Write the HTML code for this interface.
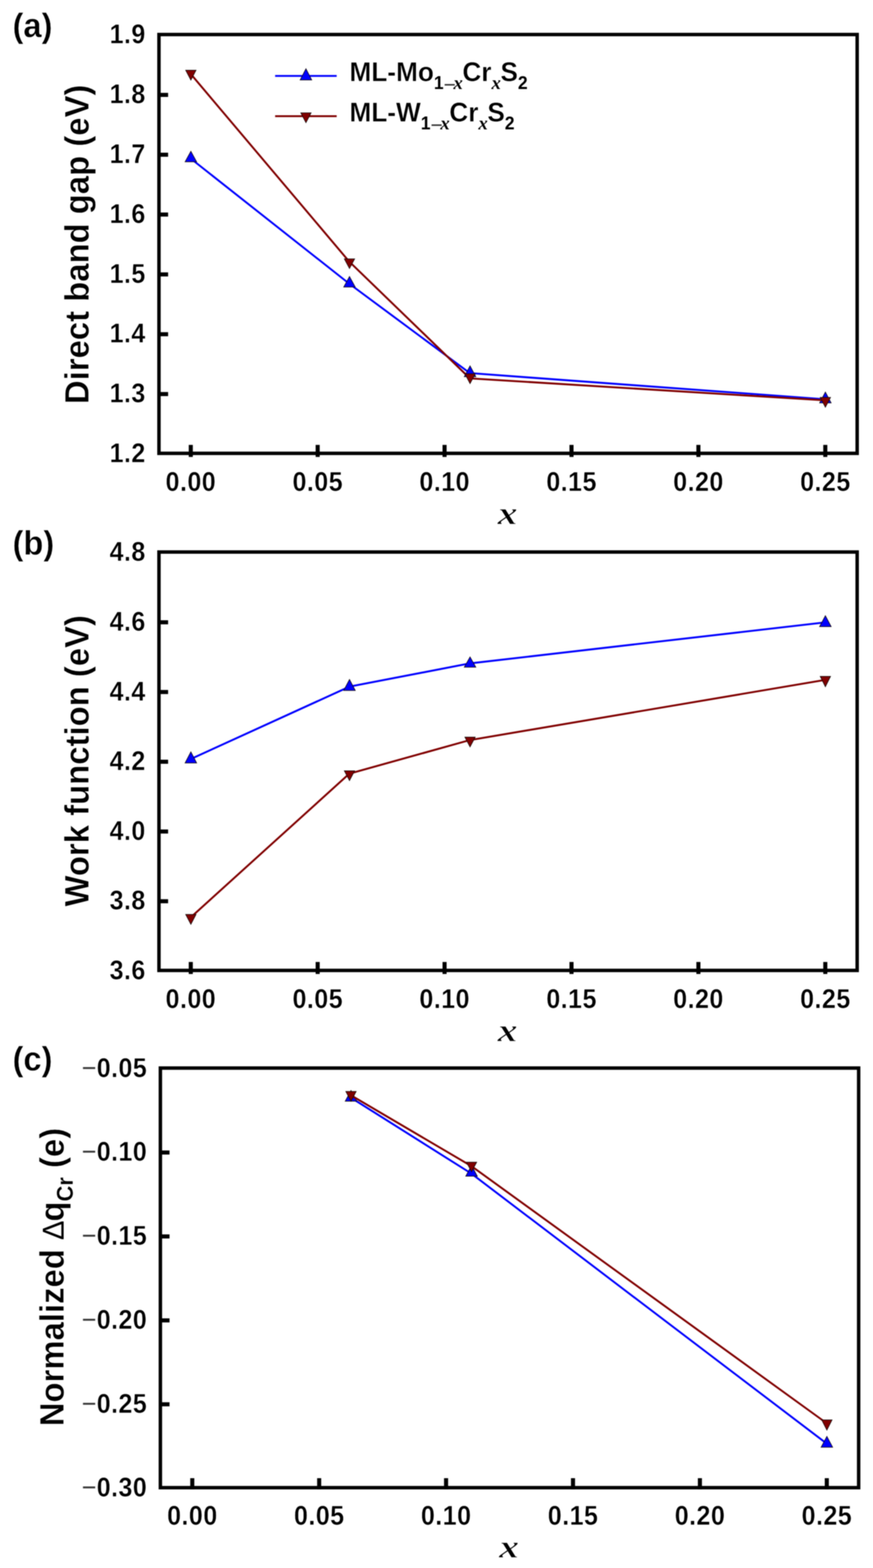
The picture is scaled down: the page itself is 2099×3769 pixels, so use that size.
<!DOCTYPE html>
<html lang="en">
<head>
<meta charset="utf-8">
<title>Band gap, work function and charge transfer of Cr-alloyed MoS2 and WS2 monolayers</title>
<style>
html, body { margin: 0; padding: 0; background: #ffffff; }
body { width: 2099px; height: 3769px; overflow: hidden; }
svg { display: block; filter: blur(1.1px); }
text { font-family: "Liberation Sans", Arial, Helvetica, sans-serif; font-weight: bold; fill: #000000; stroke: #ffffff; stroke-width: 0; paint-order: fill stroke; stroke-linejoin: miter; }
.tl { stroke-width: 0.7px; }
.lg { stroke-width: 0.7px; }
.yl, .pl { stroke-width: 0.8px; }
.mn, .dl, .lm, .li, .ls { stroke-width: 0; }
.xl { stroke-width: 1.3px; }
.ys { stroke-width: 0.4px; }
.tl { font-size: 63px; letter-spacing: 1.0px; }
.mn { font-weight: normal; letter-spacing: 0.6px; fill: #3a3a3a; }
.yl { font-size: 79px; }
.ys { font-size: 52.7px; }
.dl { font-weight: normal; font-size: 70.3px; letter-spacing: -2.5px; }
.pl { font-size: 78.5px; }
.xl { font-family: "Liberation Serif", "Times New Roman", Times, serif; font-style: italic; font-weight: bold; font-size: 77.6px; }
.lg { font-size: 63px; }
.ls { font-size: 42px; }
.lm { font-size: 50px; font-weight: normal; letter-spacing: -5.6px; fill: #333333; }
.li { font-family: "Liberation Serif", "Times New Roman", Times, serif; font-style: italic; font-weight: bold; font-size: 45px; letter-spacing: -1px; }
.fr { fill: none; stroke: #000000; stroke-width: 8.3; }
.tk { stroke: #000000; stroke-width: 9.8; }
.ln { fill: none; stroke-width: 4.6; stroke-linejoin: round; }
.mk { stroke: #140a0a; stroke-width: 1.5; stroke-linejoin: miter; }
</style>
</head>
<body>
<svg role="img" aria-label="Three stacked line charts: (a) direct band gap, (b) work function, (c) normalized charge transfer versus Cr fraction x" width="2099" height="3769" viewBox="0 0 2099 3769">
<rect x="0" y="0" width="2099" height="3769" fill="#ffffff"/>
<g id="panel-a">
<polyline class="ln" stroke="#0000ff" points="458.4,381.0 839.8,682.0 1129.7,896.8 1984.0,959.8"/>
<polygon class="mk" fill="#0000ff" points="444.97,388.95 472.83,388.95 458.90,363.56"/>
<polygon class="mk" fill="#0000ff" points="826.37,689.95 854.23,689.95 840.30,664.56"/>
<polygon class="mk" fill="#0000ff" points="1116.22,905.45 1144.11,905.45 1130.16,879.39"/>
<polygon class="mk" fill="#0000ff" points="1970.55,968.45 1998.45,968.45 1984.50,942.39"/>
<polyline class="ln" stroke="#800000" points="458.4,177.6 839.8,628.9 1129.7,909.5 1984.0,962.3"/>
<polygon class="mk" fill="#800000" points="446.44,168.85 471.36,168.85 458.90,192.59"/>
<polygon class="mk" fill="#800000" points="827.85,622.25 852.75,622.25 840.30,645.51"/>
<polygon class="mk" fill="#800000" points="1117.71,898.55 1142.62,898.55 1130.16,922.19"/>
<polygon class="mk" fill="#800000" points="1972.04,955.25 1996.96,955.25 1984.50,978.89"/>
<text class="tl" text-anchor="end" transform="translate(350.36,104.40) scale(0.96,1.04)">1.9</text>
<line class="tk" x1="382.2" x2="404.2" y1="228.1" y2="228.1"/>
<text class="tl" text-anchor="end" transform="translate(350.36,248.21) scale(0.96,1.04)">1.8</text>
<line class="tk" x1="382.2" x2="404.2" y1="371.9" y2="371.9"/>
<text class="tl" text-anchor="end" transform="translate(350.36,392.03) scale(0.96,1.04)">1.7</text>
<line class="tk" x1="382.2" x2="404.2" y1="515.7" y2="515.7"/>
<text class="tl" text-anchor="end" transform="translate(350.36,535.84) scale(0.96,1.04)">1.6</text>
<line class="tk" x1="382.2" x2="404.2" y1="659.6" y2="659.6"/>
<text class="tl" text-anchor="end" transform="translate(350.36,679.66) scale(0.96,1.04)">1.5</text>
<line class="tk" x1="382.2" x2="404.2" y1="803.4" y2="803.4"/>
<text class="tl" text-anchor="end" transform="translate(350.36,823.47) scale(0.96,1.04)">1.4</text>
<line class="tk" x1="382.2" x2="404.2" y1="947.2" y2="947.2"/>
<text class="tl" text-anchor="end" transform="translate(350.36,967.29) scale(0.96,1.04)">1.3</text>
<text class="tl" text-anchor="end" transform="translate(350.36,1111.10) scale(0.96,1.04)">1.2</text>
<line class="tk" x1="458.7" x2="458.7" y1="1098.4" y2="1069.4"/>
<text class="tl" text-anchor="middle" transform="translate(458.88,1180.20) scale(0.96,1.04)">0.00</text>
<line class="tk" x1="763.8" x2="763.8" y1="1098.4" y2="1069.4"/>
<text class="tl" text-anchor="middle" transform="translate(764.00,1180.20) scale(0.96,1.04)">0.05</text>
<line class="tk" x1="1068.9" x2="1068.9" y1="1098.4" y2="1069.4"/>
<text class="tl" text-anchor="middle" transform="translate(1069.12,1180.20) scale(0.96,1.04)">0.10</text>
<line class="tk" x1="1374.1" x2="1374.1" y1="1098.4" y2="1069.4"/>
<text class="tl" text-anchor="middle" transform="translate(1374.24,1180.20) scale(0.96,1.04)">0.15</text>
<line class="tk" x1="1679.2" x2="1679.2" y1="1098.4" y2="1069.4"/>
<text class="tl" text-anchor="middle" transform="translate(1679.36,1180.20) scale(0.96,1.04)">0.20</text>
<line class="tk" x1="1984.3" x2="1984.3" y1="1098.4" y2="1069.4"/>
<text class="tl" text-anchor="middle" transform="translate(1984.48,1180.20) scale(0.96,1.04)">0.25</text>
<rect class="fr" x="382.2" y="83.0" width="1678.7" height="1006.7"/>
<text class="xl" transform="translate(1196.40,1259.90) scale(1.23,1)">x</text>
<text class="yl" text-anchor="middle" transform="translate(213.20,587.35) rotate(-90) scale(1,1.04)">Direct band gap (eV)</text>
<text class="pl" transform="translate(30.20,88.80) scale(1,1.04)">(a)</text>
</g>
<g id="panel-b">
<polyline class="ln" stroke="#0000ff" points="458.4,1824.6 839.8,1650.6 1129.7,1594.6 1984.0,1496.0"/>
<polygon class="mk" fill="#0000ff" points="444.94,1834.05 472.86,1834.05 458.90,1807.22"/>
<polygon class="mk" fill="#0000ff" points="826.34,1659.85 854.26,1659.85 840.30,1633.22"/>
<polygon class="mk" fill="#0000ff" points="1116.24,1603.85 1144.09,1603.85 1130.16,1578.94"/>
<polygon class="mk" fill="#0000ff" points="1970.54,1506.35 1998.46,1506.35 1984.50,1479.91"/>
<polyline class="ln" stroke="#800000" points="458.4,2205.2 839.8,1859.8 1129.7,1778.9 1984.0,1634.2"/>
<polygon class="mk" fill="#800000" points="446.44,2198.05 471.36,2198.05 458.90,2221.79"/>
<polygon class="mk" fill="#800000" points="827.85,1852.85 852.75,1852.85 840.30,1876.40"/>
<polygon class="mk" fill="#800000" points="1117.71,1771.85 1142.62,1771.85 1130.16,1795.49"/>
<polygon class="mk" fill="#800000" points="1972.01,1625.65 1996.99,1625.65 1984.50,1650.72"/>
<text class="tl" text-anchor="end" transform="translate(350.36,1348.30) scale(0.96,1.04)">4.8</text>
<line class="tk" x1="382.2" x2="404.2" y1="1495.8" y2="1495.8"/>
<text class="tl" text-anchor="end" transform="translate(350.36,1515.92) scale(0.96,1.04)">4.6</text>
<line class="tk" x1="382.2" x2="404.2" y1="1663.4" y2="1663.4"/>
<text class="tl" text-anchor="end" transform="translate(350.36,1683.53) scale(0.96,1.04)">4.4</text>
<line class="tk" x1="382.2" x2="404.2" y1="1831.0" y2="1831.0"/>
<text class="tl" text-anchor="end" transform="translate(350.36,1851.15) scale(0.96,1.04)">4.2</text>
<line class="tk" x1="382.2" x2="404.2" y1="1998.7" y2="1998.7"/>
<text class="tl" text-anchor="end" transform="translate(350.36,2018.77) scale(0.96,1.04)">4.0</text>
<line class="tk" x1="382.2" x2="404.2" y1="2166.3" y2="2166.3"/>
<text class="tl" text-anchor="end" transform="translate(350.36,2186.38) scale(0.96,1.04)">3.8</text>
<text class="tl" text-anchor="end" transform="translate(350.36,2354.00) scale(0.96,1.04)">3.6</text>
<line class="tk" x1="458.7" x2="458.7" y1="2341.2" y2="2312.3"/>
<text class="tl" text-anchor="middle" transform="translate(458.88,2423.10) scale(0.96,1.04)">0.00</text>
<line class="tk" x1="763.8" x2="763.8" y1="2341.2" y2="2312.3"/>
<text class="tl" text-anchor="middle" transform="translate(764.00,2423.10) scale(0.96,1.04)">0.05</text>
<line class="tk" x1="1068.9" x2="1068.9" y1="2341.2" y2="2312.3"/>
<text class="tl" text-anchor="middle" transform="translate(1069.12,2423.10) scale(0.96,1.04)">0.10</text>
<line class="tk" x1="1374.1" x2="1374.1" y1="2341.2" y2="2312.3"/>
<text class="tl" text-anchor="middle" transform="translate(1374.24,2423.10) scale(0.96,1.04)">0.15</text>
<line class="tk" x1="1679.2" x2="1679.2" y1="2341.2" y2="2312.3"/>
<text class="tl" text-anchor="middle" transform="translate(1679.36,2423.10) scale(0.96,1.04)">0.20</text>
<line class="tk" x1="1984.3" x2="1984.3" y1="2341.2" y2="2312.3"/>
<text class="tl" text-anchor="middle" transform="translate(1984.48,2423.10) scale(0.96,1.04)">0.25</text>
<rect class="fr" x="382.2" y="1326.9" width="1678.7" height="1005.7"/>
<text class="xl" transform="translate(1196.40,2502.80) scale(1.23,1)">x</text>
<text class="yl" text-anchor="middle" transform="translate(213.20,1828.75) rotate(-90) scale(1,1.04)">Work function (eV)</text>
<text class="pl" transform="translate(30.20,1332.70) scale(1,1.04)">(b)</text>
</g>
<g id="panel-c">
<polyline class="ln" stroke="#0000ff" points="843.4,2638.3 1133.3,2820.9 1987.6,3469.9"/>
<polygon class="mk" fill="#0000ff" points="829.96,2646.95 857.84,2646.95 843.90,2621.18"/>
<polygon class="mk" fill="#0000ff" points="1119.82,2827.35 1147.71,2827.35 1133.76,2801.29"/>
<polygon class="mk" fill="#0000ff" points="1974.15,3478.75 2002.05,3478.75 1988.10,3452.50"/>
<polyline class="ln" stroke="#800000" points="843.4,2632.6 1133.3,2802.9 1987.6,3421.0"/>
<polygon class="mk" fill="#800000" points="831.44,2623.55 856.36,2623.55 843.90,2647.19"/>
<polygon class="mk" fill="#800000" points="1121.32,2793.45 1146.21,2793.45 1133.76,2816.52"/>
<polygon class="mk" fill="#800000" points="1975.62,3413.05 2000.58,3413.05 1988.10,3437.55"/>
<text class="tl" text-anchor="end" transform="translate(353.96,2588.70) scale(0.96,1.04)"><tspan class="mn">−</tspan>0.05</text>
<line class="tk" x1="385.6" x2="407.6" y1="2770.3" y2="2770.3"/>
<text class="tl" text-anchor="end" transform="translate(353.96,2790.42) scale(0.96,1.04)"><tspan class="mn">−</tspan>0.10</text>
<line class="tk" x1="385.6" x2="407.6" y1="2972.0" y2="2972.0"/>
<text class="tl" text-anchor="end" transform="translate(353.96,2992.14) scale(0.96,1.04)"><tspan class="mn">−</tspan>0.15</text>
<line class="tk" x1="385.6" x2="407.6" y1="3173.8" y2="3173.8"/>
<text class="tl" text-anchor="end" transform="translate(353.96,3193.86) scale(0.96,1.04)"><tspan class="mn">−</tspan>0.20</text>
<line class="tk" x1="385.6" x2="407.6" y1="3375.5" y2="3375.5"/>
<text class="tl" text-anchor="end" transform="translate(353.96,3395.58) scale(0.96,1.04)"><tspan class="mn">−</tspan>0.25</text>
<text class="tl" text-anchor="end" transform="translate(353.96,3597.30) scale(0.96,1.04)"><tspan class="mn">−</tspan>0.30</text>
<line class="tk" x1="462.3" x2="462.3" y1="3580.1" y2="3553.1"/>
<text class="tl" text-anchor="middle" transform="translate(462.48,3664.50) scale(0.96,1.04)">0.00</text>
<line class="tk" x1="767.4" x2="767.4" y1="3580.1" y2="3553.1"/>
<text class="tl" text-anchor="middle" transform="translate(767.60,3664.50) scale(0.96,1.04)">0.05</text>
<line class="tk" x1="1072.5" x2="1072.5" y1="3580.1" y2="3553.1"/>
<text class="tl" text-anchor="middle" transform="translate(1072.72,3664.50) scale(0.96,1.04)">0.10</text>
<line class="tk" x1="1377.7" x2="1377.7" y1="3580.1" y2="3553.1"/>
<text class="tl" text-anchor="middle" transform="translate(1377.84,3664.50) scale(0.96,1.04)">0.15</text>
<line class="tk" x1="1682.8" x2="1682.8" y1="3580.1" y2="3553.1"/>
<text class="tl" text-anchor="middle" transform="translate(1682.96,3664.50) scale(0.96,1.04)">0.20</text>
<line class="tk" x1="1987.9" x2="1987.9" y1="3580.1" y2="3553.1"/>
<text class="tl" text-anchor="middle" transform="translate(1988.08,3664.50) scale(0.96,1.04)">0.25</text>
<rect class="fr" x="385.6" y="2567.3" width="1678.9" height="1008.6"/>
<text class="xl" transform="translate(1200.00,3743.70) scale(1.23,1)">x</text>
<text class="yl" text-anchor="middle" transform="translate(152.50,3069.60) rotate(-90) scale(1,1.04)">Normalized <tspan class="dl">Δ</tspan>q<tspan class="ys" dy="22">Cr</tspan><tspan dy="-22"> (e)</tspan></text>
<text class="pl" transform="translate(30.20,2573.10) scale(1,1.04)">(c)</text>
</g>
<g id="legend">
<line class="ln" stroke="#0000ff" x1="661.5" x2="809.5" y1="182.5" y2="182.5"/>
<polygon class="mk" fill="#0000ff" points="721.63,192.25 749.57,192.25 735.60,165.14"/>
<text class="lg" transform="translate(840.30,195.00) scale(1,1.04)">ML-Mo<tspan class="ls" dy="18.3">1</tspan><tspan class="lm" dy="7.1">−</tspan><tspan class="li" dy="-7.1">x</tspan><tspan dy="-18.3">Cr</tspan><tspan class="li" dy="18.3">x</tspan><tspan dy="-18.3">S</tspan><tspan class="ls" dy="18.3">2</tspan></text>
<line class="ln" stroke="#800000" x1="661.5" x2="809.5" y1="279.2" y2="279.2"/>
<polygon class="mk" fill="#800000" points="723.14,271.15 748.06,271.15 735.60,294.98"/>
<text class="lg" transform="translate(840.30,291.50) scale(1,1.04)">ML-W<tspan class="ls" dy="18.3">1</tspan><tspan class="lm" dy="7.1">−</tspan><tspan class="li" dy="-7.1">x</tspan><tspan dy="-18.3">Cr</tspan><tspan class="li" dy="18.3">x</tspan><tspan dy="-18.3">S</tspan><tspan class="ls" dy="18.3">2</tspan></text>
</g>
</svg>
</body>
</html>
